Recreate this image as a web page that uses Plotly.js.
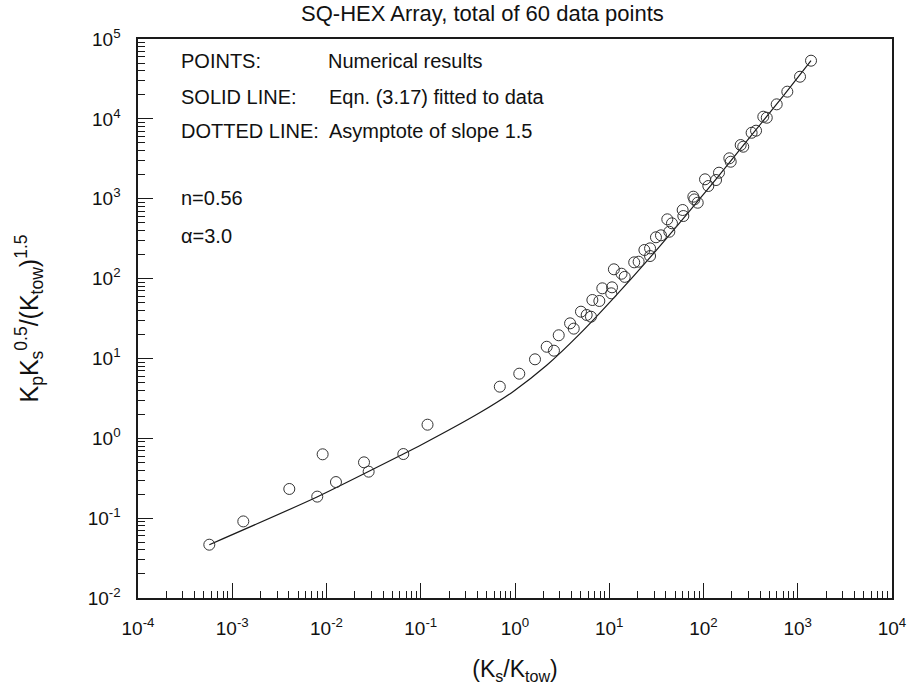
<!DOCTYPE html>
<html>
<head>
<meta charset="utf-8">
<script src="https://cdn.plot.ly/plotly-3.0.1.min.js"></script>
<style>
  html, body { margin: 0; padding: 0; background: #fff; }
  #chart { width: 912px; height: 697px; }
</style>
</head>
<body>
<div id="chart"></div>
<script>
// Numerical results: Ks/Ktow against Kp*Ks^0.5/(Ktow)^1.5
const ksRatio = [
  5.71e-4, 1.31e-3, 4.03e-3, 7.98e-3, 9.1e-3, 0.0126, 0.025, 0.028, 0.0653, 0.118,
  0.69, 1.11, 1.63, 2.17, 2.59, 2.91, 3.84, 4.2, 5.01, 5.76,
  6.40, 6.62, 7.85, 8.44, 10.7, 10.5, 11.2, 14.6, 13.5, 18.4,
  20.5, 23.6, 27.1, 27.1, 31.3, 35.4, 43.4, 41.3, 46.3, 60.1,
  61.1, 78, 80, 86.8, 103.8, 112.5, 135.8, 146, 188, 194.4,
  248, 264, 324, 361, 431, 469, 598, 775, 1057, 1383
];
const kpGroup = [
  0.0465, 0.091, 0.232, 0.186, 0.63, 0.283, 0.50, 0.382, 0.635, 1.48,
  4.43, 6.44, 9.75, 14.0, 12.5, 19.5, 27.5, 23.6, 38.5, 35.0,
  33.3, 53.9, 52.4, 75.5, 77.7, 65.4, 130.6, 105, 115, 159.7,
  162.6, 228, 239, 191.6, 329, 348, 386, 552, 492, 722,
  607, 1060, 980, 891, 1750, 1443, 1714, 2117, 3206, 2906,
  4700, 4480, 6700, 7110, 10640, 10330, 15200, 21900, 33700, 53500
];

// Eqn. (3.17) fitted curve, n = 0.56, alpha = 3.0
const fitX = [5.71e-4, 7.93e-3, 0.0653, 0.103, 0.426, 0.96, 2.17, 4.9, 11.0, 27.0, 56.4, 84.7, 138, 311, 703, 1383];
const fitY = [0.0465, 0.184, 0.635, 0.836, 2.10, 3.86, 8.2, 20.4, 56, 183, 507, 897, 1800, 5890, 19400, 53500];

// Decade ticks
const xTickVals = [1e-4, 1e-3, 1e-2, 1e-1, 1, 10, 100, 1000, 10000];
const xTickText = ['10<sup>-4</sup>', '10<sup>-3</sup>', '10<sup>-2</sup>', '10<sup>-1</sup>', '10<sup>0</sup>',
                   '10<sup>1</sup>', '10<sup>2</sup>', '10<sup>3</sup>', '10<sup>4</sup>'];
const yTickVals = [1e-2, 1e-1, 1, 10, 100, 1000, 10000, 100000];
const yTickText = ['10<sup>-2</sup>', '10<sup>-1</sup>', '10<sup>0</sup>', '10<sup>1</sup>',
                   '10<sup>2</sup>', '10<sup>3</sup>', '10<sup>4</sup>', '10<sup>5</sup>'];

const FONT = 'Liberation Sans, Arial, Helvetica, sans-serif';
const INK = '#1a1a1a';

const traces = [
  {
    x: fitX, y: fitY,
    type: 'scatter', mode: 'lines',
    line: { color: INK, width: 1.2, shape: 'spline', smoothing: 0.6 },
    hoverinfo: 'skip', showlegend: false
  },
  {
    x: ksRatio, y: kpGroup,
    type: 'scatter', mode: 'markers',
    marker: { symbol: 'circle-open', size: 11, color: '#333', line: { width: 1, color: '#333' } },
    showlegend: false
  }
];

function axisBase() {
  return {
    type: 'log',
    showgrid: false, zeroline: false,
    showline: true, linecolor: INK, linewidth: 1.6, mirror: true,
    ticks: 'inside', ticklen: 15, tickwidth: 1, tickcolor: INK,
    tickmode: 'array',
    tickfont: { family: FONT, size: 19, color: '#111' },
    minor: { ticks: 'inside', ticklen: 7, tickwidth: 1, tickcolor: INK, dtick: 'D1', showgrid: false }
  };
}

const xaxis = Object.assign(axisBase(), {
  range: [-4, 4],
  tickvals: xTickVals, ticktext: xTickText,
  ticklabelstandoff: 13,
  title: { text: '(K<sub>s</sub>/K<sub>tow</sub>)', font: { family: FONT, size: 23, color: '#111' }, standoff: 22 }
});
const yaxis = Object.assign(axisBase(), {
  range: [-2, 5],
  tickvals: yTickVals, ticktext: yTickText,
  ticklabelstandoff: 12,
  title: { text: 'K<sub>p</sub>K<sub>s</sub><sup>0.5</sup>/(K<sub>tow</sub>)<sup>1.5</sup>', font: { family: FONT, size: 25, color: '#111' }, standoff: 42 }
});

const noteFont = { family: FONT, size: 20, color: '#111' };
function note(text, x, y) {
  return { text: text, xref: 'paper', yref: 'paper', x: x, y: y, xanchor: 'left', yanchor: 'middle', showarrow: false, font: noteFont };
}

const layout = {
  width: 912, height: 697,
  margin: { l: 138, r: 20, t: 39, b: 99 },
  paper_bgcolor: '#fff', plot_bgcolor: '#fff',
  font: { family: FONT, color: '#111' },
  title: {
    text: 'SQ-HEX Array, total of 60 data points',
    font: { family: FONT, size: 22, color: '#111' },
    x: 0.529, xanchor: 'center', y: 0.981, yanchor: 'middle'
  },
  xaxis: xaxis,
  yaxis: yaxis,
  annotations: [
    note('POINTS:', 0.055, 0.961),
    note('Numerical results', 0.249, 0.961),
    note('SOLID LINE:', 0.055, 0.897),
    note('Eqn. (3.17) fitted to data', 0.250, 0.897),
    note('DOTTED LINE:', 0.055, 0.835),
    note('Asymptote of slope 1.5', 0.250, 0.835),
    note('n=0.56', 0.055, 0.715),
    note('\u03b1=3.0', 0.055, 0.647)
  ],
  showlegend: false
};

Plotly.newPlot('chart', traces, layout, { displayModeBar: false, staticPlot: true });
</script>
</body>
</html>
